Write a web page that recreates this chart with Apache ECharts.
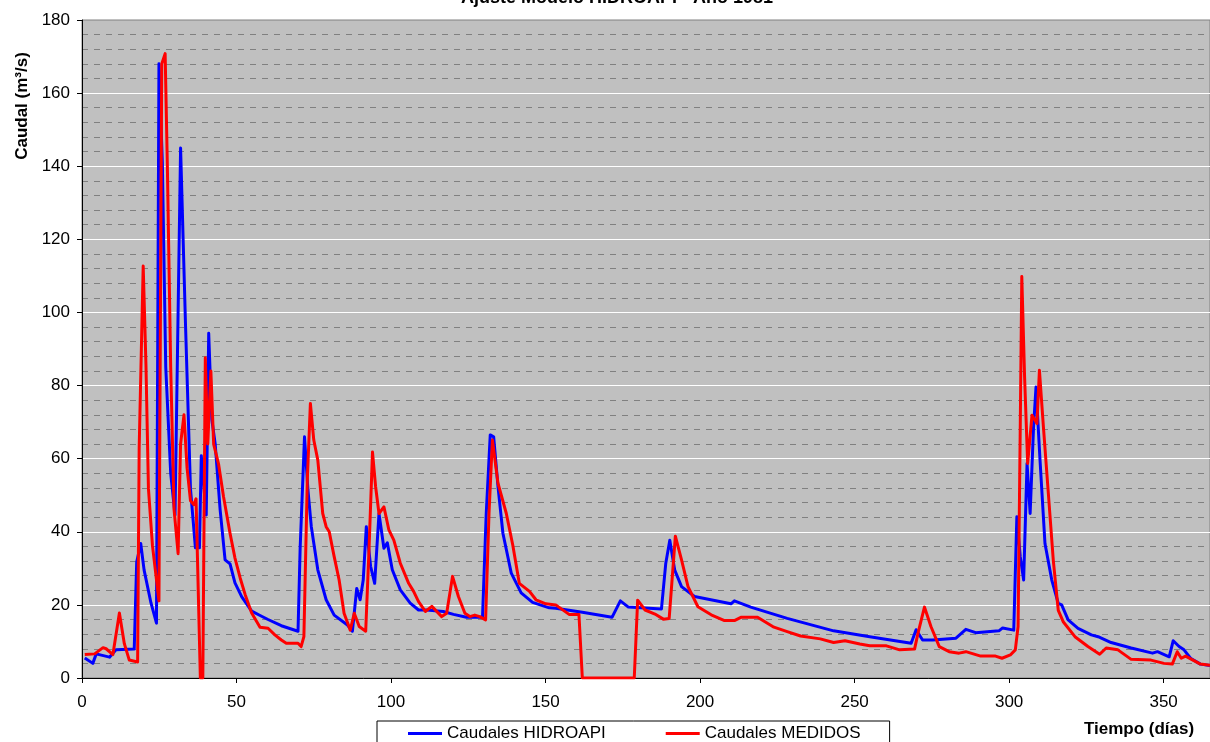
<!DOCTYPE html>
<html>
<head>
<meta charset="utf-8">
<script src="https://cdn.jsdelivr.net/npm/echarts@6/dist/echarts.min.js"></script>
<style>
  html, body { margin: 0; padding: 0; background: #ffffff; }
  #chart { width: 1210px; height: 742px; }
</style>
</head>
<body>
<div id="chart"></div>
<script>
const titleText = 'Ajuste Modelo HIDROAPI - Año 1981';
const yAxisTitle = 'Caudal (m³/s)';
const xAxisTitle = 'Tiempo (días)';
const seriesNames = ['Caudales HIDROAPI', 'Caudales MEDIDOS'];

const hidroDays = [0.9, 3.5, 4.6, 8.9, 11, 16.9, 17.7, 19, 20.1, 22.3, 24.1, 24.9, 26, 27.1, 28.7, 30.1, 31.9, 33.5, 35.1, 36.7, 38, 38.6, 40.2, 41, 42, 43.1, 44.7, 46.3, 47.9, 49.5, 51.7, 54.9, 58.1,
  60.2, 64.5, 69.9, 70.6, 72, 73.1, 74.2, 76.3, 79, 81.6, 85.9, 87.5, 88.9, 90, 91, 92, 93.4, 94.7, 96.1, 97.7, 98.8, 100.4, 103, 106.2, 108.9, 111.6, 116.9, 120.2, 124.4, 129.6, 130.8, 132.1, 133.2, 134.6, 136.2, 138.9, 142.1, 145.8, 151.2,
  153.3, 161.9, 171.5, 174.2, 176.8, 187.5, 188.9, 190.2, 191.8, 194, 198.2, 204.7, 210, 211.1, 216.4, 228.2, 243.2, 254.9, 268.3, 269.9, 272,
  275.3, 282.8, 286, 289.2, 296.7, 297.9, 301.5, 302.5, 303.6, 304.7, 305.8, 306.8, 307.9, 308.7, 310, 311.6, 313.8, 315.9, 317, 319.1, 322.3, 326.6, 328.8, 333, 339.5, 346.4, 348, 351.8, 353.1, 355, 356.6, 358.7, 361.9, 365];
const hidroQ = [5.5, 4.0, 6.6, 5.7, 7.7, 7.9, 31.7, 36.8, 29.5, 20.6, 15, 168, 141, 85, 56, 44.6, 145, 96.5, 51.8, 35.6, 35.6, 60.8, 44.6, 94.3, 70.8, 64, 46, 32.3, 31.2, 26, 22.2, 18.3, 16.9,
  16.0, 14.3, 12.8, 35.8, 66, 51.5, 41.4, 29.6, 21.4, 17.2, 14.5, 12.8, 24.5, 21.4, 26.8, 41.4, 30.5, 25.9, 45, 35.5, 37, 29.6, 24.1, 20.5, 18.6, 18.6, 18.2, 17.4, 16.6, 16.6, 45, 66.5, 66, 52.4, 39.6, 28.7, 23.3, 20.7, 19.2,
  19.1, 18, 16.6, 21.1, 19.4, 18.9, 31.4, 37.7, 29.5, 25, 22.3, 21.2, 20.3, 21.1, 19.4, 16.3, 12.9, 11.3, 9.5, 13.2, 10.4,
  10.4, 10.9, 13.3, 12.4, 12.9, 13.7, 13.1, 44.1, 33.2, 26.8, 58.7, 45, 68.6, 79.6, 59.6, 36.8, 26.8, 20.4, 20, 15.9, 13.6, 11.8, 11.3, 9.7, 8.2, 6.8, 7.2, 5.8, 10.2, 8.6, 7.7, 5.4, 3.8, 3.4];

const medDays = [0.9, 4.1, 6.8, 7.8, 10, 12.1, 13.7, 15.3, 18, 18.5, 19.8, 20.7, 21.5, 22.8, 24.9, 25.8, 26.9, 27.6, 28.7, 29.8, 31.1, 31.9, 33, 34, 35.1, 36.2, 36.9, 38.3, 39.1, 39.9, 40.7, 41.7, 42.6, 44.2, 45.8, 47.9, 49.5, 51.2, 52.8, 54.9, 57.6,
  60.2, 62.4, 64.5, 66.1, 69.9, 70.9, 71.8, 72.9, 73.9, 75, 76.3, 77.9, 79, 80, 81.6, 83.2, 84.8, 86.8, 88.1, 89.7, 91.8, 92.9, 94, 95, 96.1, 97.7, 99.3, 100.9, 103, 105.7, 107.3, 108.9, 111.1, 113.2, 116.4, 118, 119.9, 121.8, 123.9, 125.5, 127.1, 128.7, 130.6, 131.7, 132.8, 134.6, 137.3, 139.4, 141.5, 144.8, 146.9, 150.1,
  153.3, 157.6, 160.8, 161.9, 178.7, 179.8, 182.2, 185.4, 188.1, 190, 192, 194, 196.1, 199.3, 203.6, 207.9, 211.1, 213.2, 218.6, 223.9, 228.2, 232.5, 238.9, 243.2, 246.9, 251.7, 254.9, 260.3, 264.6, 269.4, 270.5, 272.6, 274.7,
  277.4, 280.6, 283.8, 286, 290.8, 295.6, 297.7, 300.4, 302, 302.9, 303.6, 304.1, 305, 306, 307.4, 309, 309.8, 311.1, 312.7, 314.3, 315.9, 317.5, 321.3, 325.5, 329.3, 331.4, 335.2, 339.5, 345.9, 350.1, 352.8, 354.4, 355.7, 357.1, 361.9, 365];
const medQ = [6.4, 6.6, 8.3, 8, 6.4, 17.8, 9.4, 4.9, 4.4, 63, 112.7, 85.4, 51.8, 36.2, 21.1, 168, 170.8, 141, 85, 46, 34, 64, 72, 57.4, 48.5, 47.4, 49, 0, 0, 87.6, 64, 84, 64, 58.5, 49.6, 39.6, 32.8, 27.3, 22.8, 17.8, 13.9,
  13.6, 11.8, 10.4, 9.5, 9.5, 8.6, 11.3, 54.1, 75.1, 65.1, 59.6, 45, 41.4, 40, 33.2, 26.8, 17.7, 13.1, 17.7, 14.1, 12.8, 35.8, 61.8, 52.4, 45, 46.8, 40.5, 37.7, 31.4, 25.9, 23.7, 20.9, 18.2, 19.6, 16.8, 17.7, 27.8, 22.3, 17.7, 16.8, 17.2, 16.8, 15.9, 45, 65.1, 53.3, 45, 36.3, 25.9, 23.7, 21.4, 20.3,
  20, 17.4, 17.4, 0, 0, 21.3, 18.6, 17.5, 16.1, 16.3, 38.8, 32.3, 25, 19.5, 17.3, 15.7, 15.7, 16.6, 16.6, 13.9, 12.7, 11.5, 10.7, 9.7, 10.2, 9.3, 8.8, 8.8, 7.7, 7.9, 12.2, 19.4, 14.1,
  8.6, 7.2, 6.8, 7.2, 6, 6, 5.4, 6.3, 7.7, 14.1, 68.6, 109.8, 82.4, 58.7, 71.9, 69.6, 84.2, 68.6, 50.4, 32.1, 18.5, 15.4, 11.3, 8.6, 6.5, 8.2, 7.7, 5.1, 4.9, 4, 3.8, 7.2, 5.4, 6, 3.8, 3.5];

const xMin = 0, xMax = 365, xStep = 50;
const yMin = 0, yMax = 180, yStep = 20;

const pairs = (xs, ys) => xs.map((d, i) => [d, ys[i]]);
const FONT = 'Liberation Sans, Arial, sans-serif';

const chart = echarts.init(document.getElementById('chart'), null, { renderer: 'canvas' });
chart.setOption({
  animation: false,
  backgroundColor: '#ffffff',
  grid: {
    left: 82, top: 20, width: 1137.5, height: 658,
    show: true, backgroundColor: '#C0C0C0', borderColor: '#808080', borderWidth: 1
  },
  xAxis: {
    type: 'value', min: xMin, max: xMax, interval: xStep,
    axisLine: { show: true, onZero: false, lineStyle: { color: '#000', width: 1 } },
    axisTick: { show: true, length: 5, lineStyle: { color: '#000' } },
    axisLabel: { fontSize: 17, color: '#000', fontFamily: FONT, margin: 16, showMaxLabel: false },
    splitLine: { show: false }
  },
  yAxis: {
    type: 'value', min: yMin, max: yMax, interval: yStep,
    axisLine: { show: true, lineStyle: { color: '#000', width: 1 } },
    axisTick: { show: true, length: 5, lineStyle: { color: '#000' } },
    axisLabel: { fontSize: 17, color: '#000', fontFamily: FONT, margin: 12 },
    splitLine: { show: true, showMinLine: false, showMaxLine: false, lineStyle: { color: '#FFFFFF', width: 1 } },
    minorTick: { show: false, splitNumber: 5 },
    minorSplitLine: { show: true, lineStyle: { color: '#808080', width: 1, type: [6, 6] } }
  },
  legend: {
    left: 377, top: 721,
    backgroundColor: '#ffffff', borderColor: '#000', borderWidth: 1,
    padding: [4, 29, 8, 31], itemGap: 60, itemWidth: 34, itemHeight: 3,
    icon: 'rect',
    textStyle: { fontSize: 17, color: '#000', fontFamily: FONT },
    data: seriesNames
  },
  series: [
    {
      name: seriesNames[0], type: 'line', data: pairs(hidroDays, hidroQ),
      showSymbol: false, symbol: 'none', color: '#0000FF',
      lineStyle: { color: '#0000FF', width: 3, join: 'round' }
    },
    {
      name: seriesNames[1], type: 'line', data: pairs(medDays, medQ),
      showSymbol: false, symbol: 'none', color: '#FF0000',
      lineStyle: { color: '#FF0000', width: 3, join: 'round' }
    }
  ],
  graphic: [
    { type: 'text', x: 617, y: -2, style: { text: titleText, font: 'bold 18px ' + FONT, fill: '#000', align: 'center', verticalAlign: 'middle' } },
    { type: 'text', x: 22, y: 106, rotation: Math.PI / 2, style: { text: yAxisTitle, font: 'bold 17px ' + FONT, fill: '#000', align: 'center', verticalAlign: 'middle' } },
    { type: 'text', x: 1139, y: 729, style: { text: xAxisTitle, font: 'bold 17px ' + FONT, fill: '#000', align: 'center', verticalAlign: 'middle' } }
  ]
});
</script>
</body>
</html>
